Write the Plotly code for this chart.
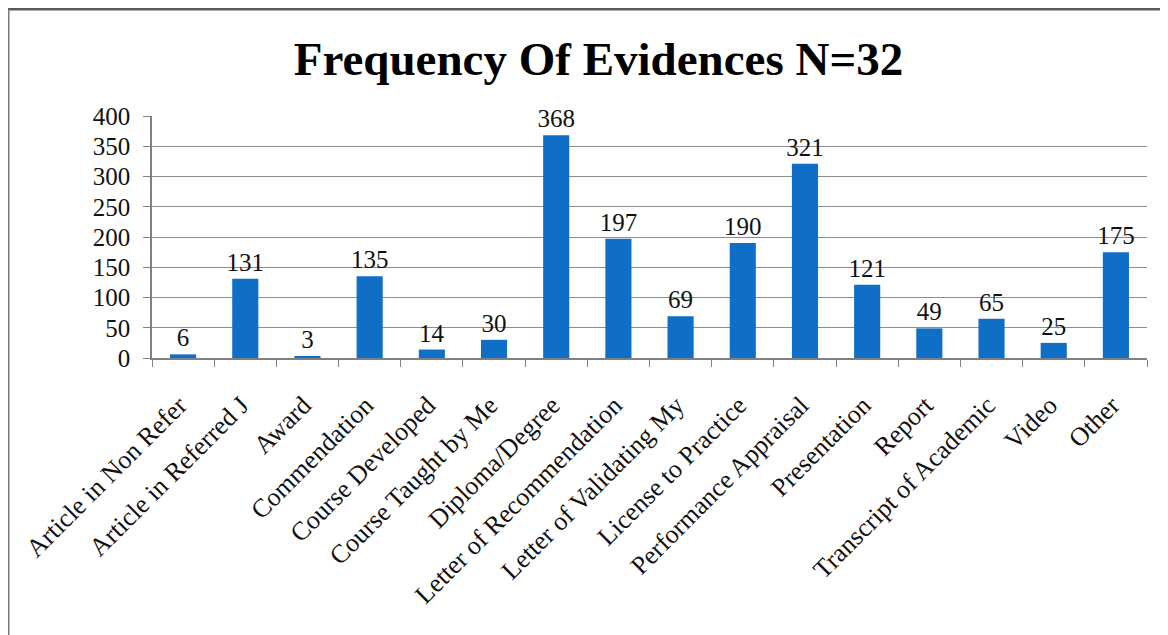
import plotly.graph_objects as go

categories = ["Article in Non Refer", "Article in Referred J", "Award", "Commendation",
              "Course Developed", "Course Taught by Me", "Diploma/Degree",
              "Letter of Recommendation", "Letter of Validating My", "License to Practice",
              "Performance Appraisal", "Presentation", "Report", "Transcript of Academic",
              "Video", "Other"]
values = [6, 131, 3, 135, 14, 30, 368, 197, 69, 190, 321, 121, 49, 65, 25, 175]
y_ticks = [0, 50, 100, 150, 200, 250, 300, 350, 400]

FONT = "Liberation Serif"

fig = go.Figure(go.Bar(
    x=categories, y=values,
    marker=dict(color="#0F6FC6", line=dict(width=0)),
    text=[str(v) for v in values], textposition="outside", cliponaxis=False,
    constraintext="none",
    textfont=dict(family=FONT, size=25, color="#111111"),
    width=0.42,
))

fig.update_layout(
    width=1160, height=627,
    margin=dict(l=144, r=21, t=108, b=277),
    paper_bgcolor="white", plot_bgcolor="white",
    showlegend=False,
    title=dict(text="<b>Frequency Of Evidences N=32</b>", x=0.509, xref="container",
               xanchor="center", y=0.92, yref="container", yanchor="middle",
               font=dict(family=FONT, size=47, color="#000000")),
    xaxis=dict(type="category", tickangle=-45, tickson="boundaries", ticks="outside",
               ticklen=7, tickcolor="#808080", showline=True, linecolor="#808080",
               linewidth=1.5, showgrid=False, ticklabelstandoff=20, ticklabelshift=-4,
               tickfont=dict(family=FONT, size=26, color="#111111")),
    yaxis=dict(range=[0, 400], tickvals=y_ticks, ticks="outside", ticklen=7,
               tickcolor="#808080", showline=True, linecolor="#808080", linewidth=1.5,
               showgrid=True, gridcolor="#8c8c8c", gridwidth=1.2, zeroline=False,
               ticklabelstandoff=8,
               tickfont=dict(family=FONT, size=25, color="#111111")),
    bargap=0.58,
    shapes=[
        dict(type="line", xref="paper", yref="paper", x0=-0.1447, x1=1.1, y0=1.442, y1=1.442,
             line=dict(color="#5a5a5a", width=3)),
        dict(type="line", xref="paper", yref="paper", x0=-0.1447, x1=-0.1447, y0=-1.2, y1=1.442,
             line=dict(color="#7a7a7a", width=3)),
    ],
)

fig.write_html("out.html")
